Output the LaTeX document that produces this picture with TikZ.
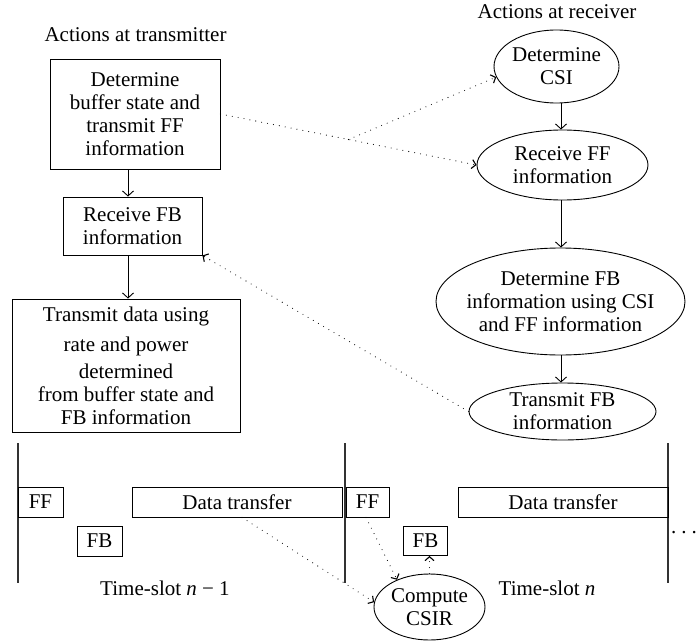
\documentclass[tikz,border=0pt]{standalone}
\usepackage{fontspec}
\setmainfont{Liberation Serif}
\usetikzlibrary{arrows.meta,shapes.geometric,calc}
\begin{document}
\begin{tikzpicture}[x=1pt,y=-1pt,
  every node/.style={font=\fontsize{21}{23}\selectfont, inner sep=0pt, align=center, text=black},
  rbox/.style={draw, line width=0.9pt},
  ell/.style={draw, ellipse, line width=0.9pt, inner sep=-10pt},
  arr/.style={line width=0.9pt, -{Straight Barb[length=5pt,width=11pt]}},
  dotarr/.style={line width=1.1pt, line cap=round, dash pattern=on 0pt off 6pt, -{Straight Barb[length=4pt,width=9pt]}},
  tline/.style={line width=1.1pt, black!80}
]
\useasboundingbox (0,0) rectangle (699,642);

% headings
\node (lt) at (135.5,35) {Actions at transmitter};
\node (lr) at (557,12) {Actions at receiver};

% transmitter boxes
\node[rbox, minimum width=170pt, minimum height=110pt] (b1) at (135,114) {Determine\\buffer state and\\transmit FF\\information};
\node[rbox, minimum width=139pt, minimum height=58pt] (b2) at (132.5,226) {Receive FB\\information};
\node[rbox, minimum width=228pt, minimum height=133pt] (b3) at (126,365.5) {Transmit data using\\[7pt]rate and power\\[4pt]determined\\from buffer state and\\FB information};

% receiver ellipses
\node[ell, minimum width=125pt, minimum height=73pt] (csi) at (556.5,66.5) {Determine\\CSI};
\node[ell, minimum width=171pt, minimum height=70pt] (rff) at (562.5,165) {Receive FF\\information};
\node[ell, minimum width=249pt, minimum height=107pt] (dfb) at (560.5,301.5) {Determine FB\\information using CSI\\and FF information};
\node[ell, minimum width=187pt, minimum height=57pt] (tfb) at (562.5,411.5) {Transmit FB\\information};

% solid arrows
\coordinate (ax) at (128,0);
\coordinate (rx) at (561,0);
\draw[arr] (b1.south -| ax) -- (b2.north -| ax);
\draw[arr] (b2.south -| ax) -- (b3.north -| ax);
\draw[arr] (csi.south -| rx) -- (rff.north -| rx);
\draw[arr] (rff.south -| rx) -- (dfb.north -| rx);
\draw[arr] (dfb.south -| rx) -- (tfb.north -| rx);

% dotted arrows (top)
\coordinate (br) at ($(b1.east)!0.5!(rff.west)$);
\draw[dotarr] (b1.east) -- (rff.west);
\draw[dotarr] (br) -- (csi.190);
\draw[dotarr] (tfb.west) -- (b2.south east);

% timeline
\draw[tline] (18,443) -- (18,583);
\draw[tline] (345,443) -- (345,583);
\draw[tline] (668,443) -- (668,583);

\node[rbox, minimum width=45pt, minimum height=30pt] (ff1) at (40.5,502) {FF};
\node[rbox, minimum width=45pt, minimum height=30pt] (fb1) at (99.5,541) {FB};
\node[rbox, minimum width=210pt, minimum height=30pt] (dt1) at (237,502) {Data transfer};
\node[rbox, minimum width=43pt, minimum height=30pt] (ff2) at (367.5,502) {FF};
\node[rbox, minimum width=44pt, minimum height=29pt] (fb2) at (425.5,541) {FB};
\node[rbox, minimum width=210pt, minimum height=30pt] (dt2) at (563,502) {Data transfer};

\node[anchor=base] (dots) at (684,533) {.\hspace{5pt}.\hspace{5pt}.};

\node (ts1) at (165,588) {Time-slot \textit{n} − 1};
\node (ts2) at (547,588) {Time-slot \textit{n}};

\node[ell, minimum width=111pt, minimum height=66pt] (csir) at (429.5,607) {Compute\\CSIR};

% dotted arrows (bottom)
\draw[dotarr] ($(dt1.south)+(5,0)$) -- (csir.175);
\draw[dotarr] ($(ff2.south)+(-1.5,0)$) -- (csir.140);
\draw[dotarr] (csir.north) -- (csir.north |- fb2.south);
\end{tikzpicture}
\end{document}
